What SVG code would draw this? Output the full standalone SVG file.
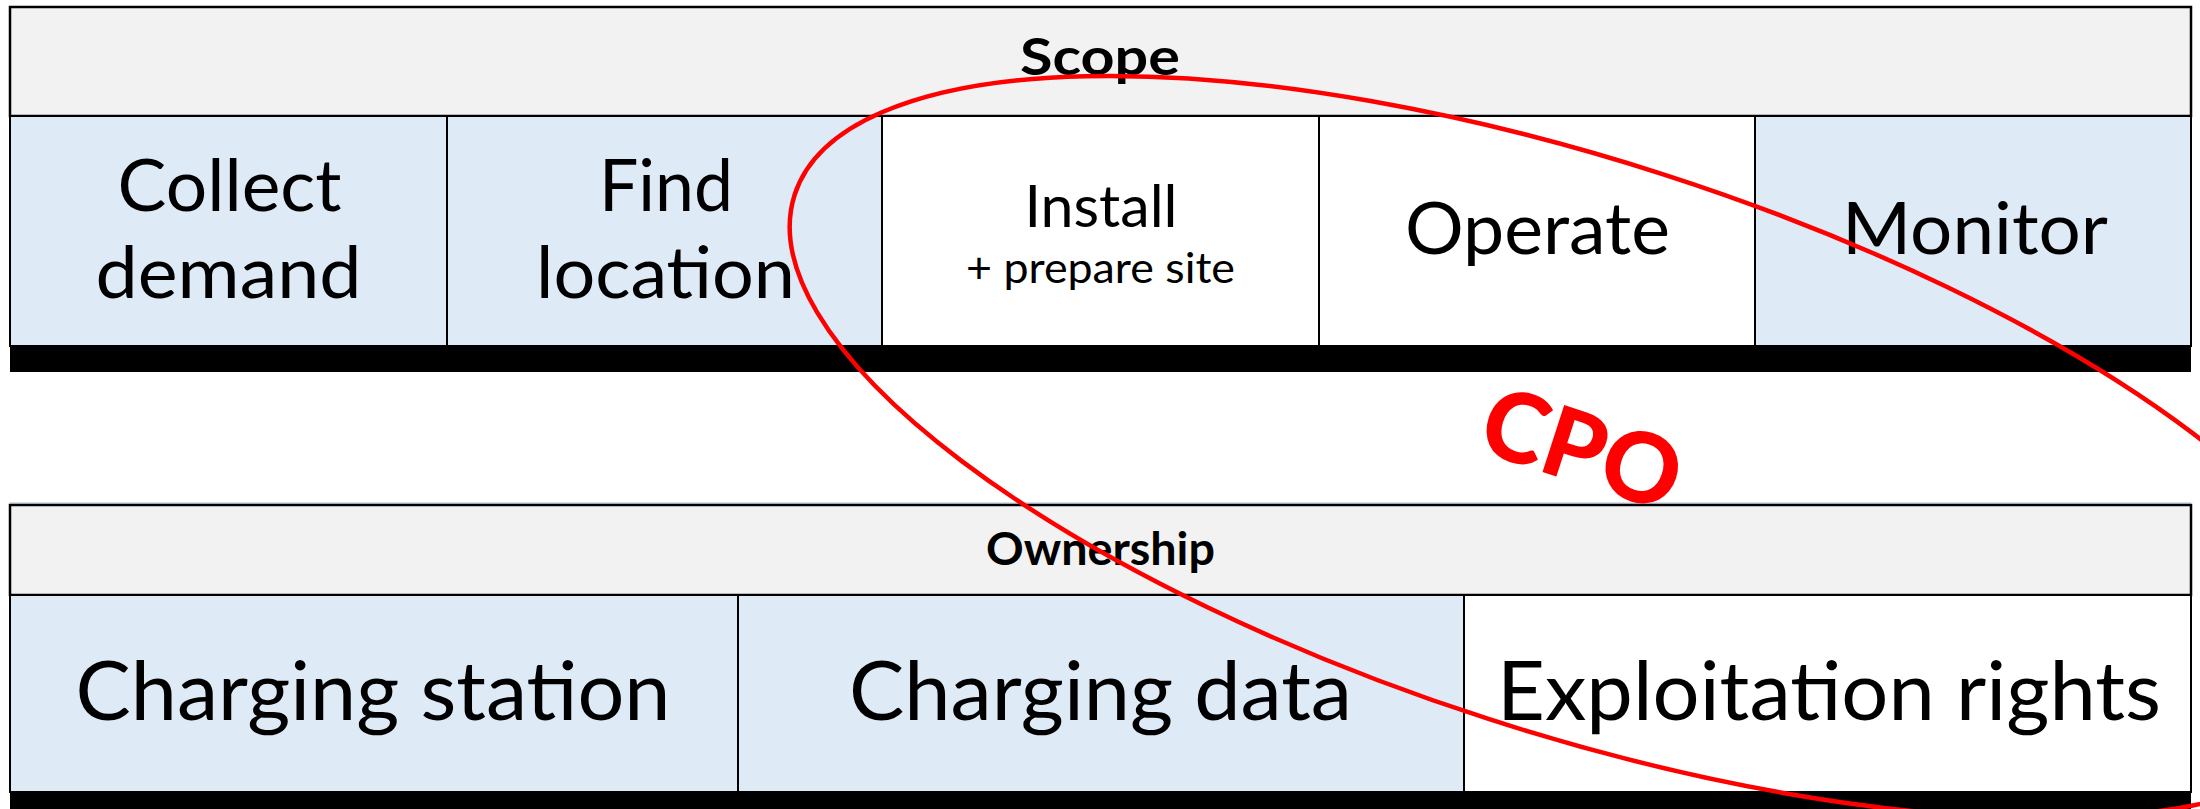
<svg xmlns="http://www.w3.org/2000/svg" width="2200" height="809" viewBox="0 0 2200 809">
  <style>
    .hdr { fill: #F2F2F2; stroke: #000; stroke-width: 2.5; }
    .cell { stroke: #000; stroke-width: 2; }
    .blue { fill: #DEEAF6; }
    .white { fill: #FFFFFF; }
    .bar { fill: #000; }
    text { font-family: Lato, "Liberation Sans", sans-serif; fill: #000; text-anchor: middle; }
    .b { font-weight: 700; }
    .ring { fill: none; stroke: #FF0000; stroke-width: 4.5; }
    .tag { fill: #FF0000; font-weight: 900; }
  </style>

  <rect x="0" y="0" width="2200" height="809" fill="#FFFFFF"/>

  <!-- Scope table -->
  <g id="scope-header">
    <rect class="hdr" x="10" y="7" width="2181" height="109"/>
    <text class="b" x="1100" y="75" font-size="52" textLength="160" lengthAdjust="spacingAndGlyphs">Scope</text>
  </g>
  <g id="collect-demand">
    <rect class="cell blue" x="10" y="116" width="437" height="230"/>
    <text x="229.5" y="211" font-size="71" textLength="224" lengthAdjust="spacingAndGlyphs">Collect</text>
    <text x="228.5" y="298" font-size="71" textLength="266" lengthAdjust="spacingAndGlyphs">demand</text>
  </g>
  <g id="find-location">
    <rect class="cell blue" x="447" y="116" width="435" height="230"/>
    <text x="666" y="211" font-size="71" textLength="134" lengthAdjust="spacingAndGlyphs">Find</text>
    <text x="665.5" y="298" font-size="71" textLength="259" lengthAdjust="spacingAndGlyphs">location</text>
  </g>
  <g id="install">
    <rect class="cell white" x="882" y="116" width="437" height="230"/>
    <text x="1101" y="226.5" font-size="58" textLength="153" lengthAdjust="spacingAndGlyphs">Install</text>
    <text x="1100.5" y="283" font-size="43" textLength="269" lengthAdjust="spacingAndGlyphs">+ prepare site</text>
  </g>
  <g id="operate">
    <rect class="cell white" x="1319" y="116" width="436" height="230"/>
    <text x="1537.5" y="254" font-size="71" textLength="265" lengthAdjust="spacingAndGlyphs">Operate</text>
  </g>
  <g id="monitor">
    <rect class="cell blue" x="1755" y="116" width="436" height="230"/>
    <text x="1975" y="254" font-size="71" textLength="266" lengthAdjust="spacingAndGlyphs">Monitor</text>
  </g>
  <rect class="bar" x="10" y="346" width="2181" height="26"/>

  <!-- Ownership table -->
  <line x1="10" y1="503" x2="2191" y2="503" stroke="#D3E0EE" stroke-width="2"/>
  <g id="ownership-header">
    <rect class="hdr" x="10" y="505" width="2181" height="90"/>
    <text class="b" x="1100.5" y="565" font-size="46" textLength="229" lengthAdjust="spacingAndGlyphs">Ownership</text>
  </g>
  <g id="charging-station">
    <rect class="cell blue" x="10" y="595" width="728" height="197"/>
    <text x="373" y="719.5" font-size="81" textLength="595" lengthAdjust="spacingAndGlyphs">Charging station</text>
  </g>
  <g id="charging-data">
    <rect class="cell blue" x="738" y="595" width="726" height="197"/>
    <text x="1100.5" y="719.5" font-size="81" textLength="503" lengthAdjust="spacingAndGlyphs">Charging data</text>
  </g>
  <g id="exploitation-rights">
    <rect class="cell white" x="1464" y="595" width="727" height="197"/>
    <text x="1829" y="719.5" font-size="81" textLength="664" lengthAdjust="spacingAndGlyphs">Exploitation rights</text>
  </g>
  <rect class="bar" x="10" y="792" width="2181" height="20"/>

  <!-- CPO boundary drawn over both tables -->
  <g id="cpo">
    <ellipse class="ring" cx="1577" cy="447" rx="822" ry="286" transform="rotate(17.87 1577 447)"/>
    <text class="tag" x="0" y="34" font-size="97" transform="translate(1582 449) rotate(18)">CPO</text>
  </g>
</svg>
